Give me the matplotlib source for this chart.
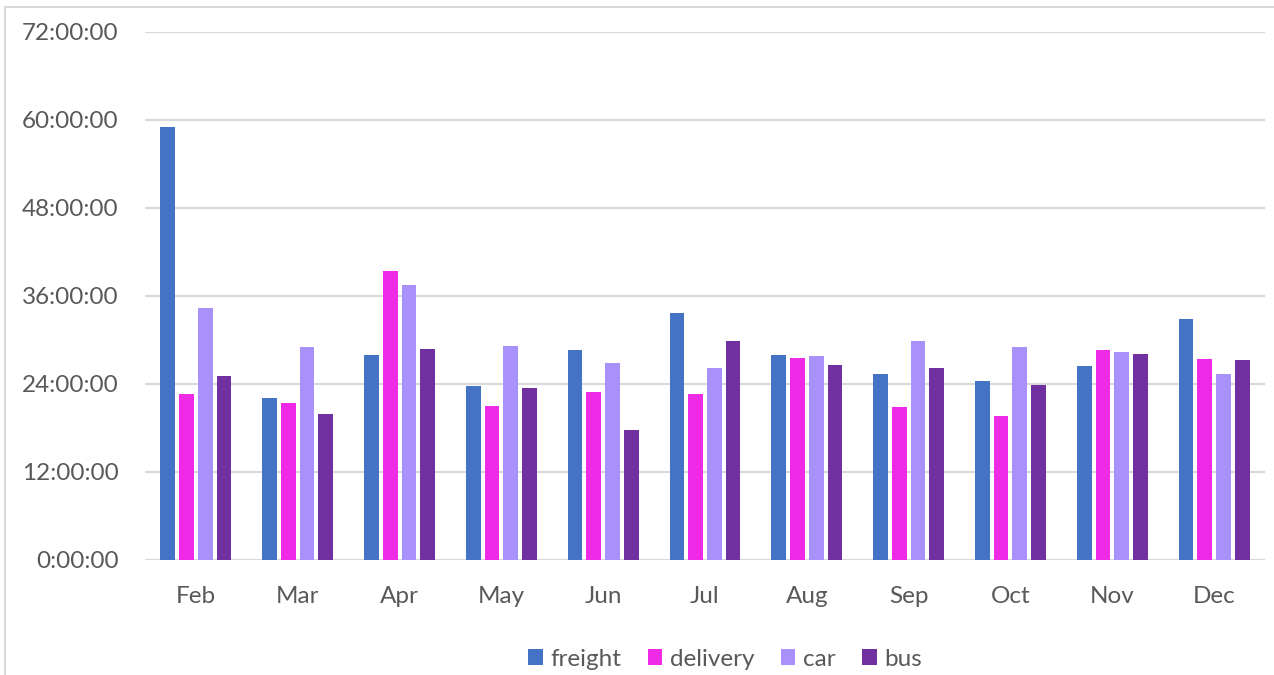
import matplotlib

matplotlib.use("Agg")

import matplotlib.pyplot as plt
import numpy as np
from matplotlib.lines import Line2D
from matplotlib.ticker import FuncFormatter, MultipleLocator

months = ["Feb", "Mar", "Apr", "May", "Jun", "Jul", "Aug", "Sep", "Oct", "Nov", "Dec"]

# hours
freight = [59.1, 22.1, 27.9, 23.7, 28.7, 33.7, 27.9, 25.3, 24.45, 26.5, 32.9]
delivery = [22.7, 21.4, 39.4, 21.0, 22.9, 22.6, 27.6, 20.8, 19.7, 28.7, 27.4]
car = [34.3, 29.0, 37.5, 29.2, 26.8, 26.2, 27.8, 29.8, 29.0, 28.3, 25.3]
bus = [25.05, 19.9, 28.8, 23.5, 17.7, 29.8, 26.6, 26.2, 23.8, 28.1, 27.3]

series = [
    ("freight", freight, "#4472C4"),
    ("delivery", delivery, "#EE2AE6"),
    ("car", car, "#A891FB"),
    ("bus", bus, "#7030A0"),
]

plt.rcParams["font.family"] = ["Lato", "DejaVu Sans"]
text_color = "#595959"

fig = plt.figure(figsize=(12.74, 6.75), dpi=100)
ax = fig.add_axes([145 / 1274, 1 - 560 / 675, 1120 / 1274, 528 / 675])

x = np.arange(len(months))
stride = 0.184
width = 0.145
for i, (name, values, color) in enumerate(series):
    offset = (i - 1.5) * stride
    ax.bar(x + offset, values, width=width, color=color, label=name, zorder=3)

ax.set_xlim(-0.5, len(months) - 0.5)
ax.set_ylim(0, 72)
ax.yaxis.set_major_locator(MultipleLocator(12))
ax.yaxis.set_major_formatter(FuncFormatter(lambda v, pos: f"{int(v)}:00:00"))
ax.set_xticks(x, labels=months)

ax.grid(axis="y", color="#D9D9D9", linewidth=1.5, zorder=0)
for spine in ax.spines.values():
    spine.set_visible(False)
ax.tick_params(length=0, labelsize=17.5, colors=text_color)
ax.tick_params(axis="y", pad=19)
ax.tick_params(axis="x", pad=19)

fig.legend(
    loc="center",
    bbox_to_anchor=(725 / 1274, 1 - 659 / 675),
    ncol=4,
    frameon=False,
    fontsize=17.5,
    labelcolor=text_color,
    handlelength=0.6,
    handleheight=0.6,
    handletextpad=0.3,
    columnspacing=1.1,
)

# chart border (only top and left edges visible in the original)
fig.lines.append(Line2D([5 / 1274, 5 / 1274], [0, 1 - 7 / 675], transform=fig.transFigure,
                        color="#D9D9D9", linewidth=1.5))
fig.lines.append(Line2D([5 / 1274, 1], [1 - 7 / 675, 1 - 7 / 675], transform=fig.transFigure,
                        color="#D9D9D9", linewidth=1.5))

fig.savefig("out.png", dpi=100, facecolor="white")
plt.close(fig)
